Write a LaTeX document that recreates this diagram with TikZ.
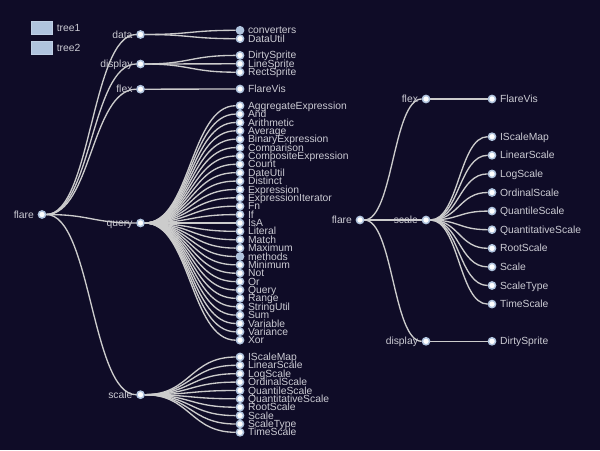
\documentclass[tikz,border=0pt]{standalone}
\usepackage{fontspec}
\setmainfont{Liberation Sans}
\usepackage{tikz,xcolor}
\usetikzlibrary{calc}

\definecolor{bgnavy}{HTML}{0F0C27}
\definecolor{linkgray}{HTML}{CCCCCC}
\definecolor{textgray}{HTML}{CBCBD3}
\definecolor{steelblue}{HTML}{B0C4DE}

\pgfdeclarelayer{bg}
\pgfdeclarelayer{links}
\pgfsetlayers{bg,links,main}

\tikzset{
  vert/.style={circle,draw=steelblue,fill=white,line width=1.1pt,inner sep=0pt,minimum size=5.4pt},
  folded/.style={vert,fill=steelblue},
  link/.style={draw=linkgray,line width=1pt},
  every label/.style={text=textgray,inner sep=0pt,text height=5.5pt,text depth=0.2pt,
    font=\fontsize{7.75}{8}\selectfont},
  label distance=2.6pt
}

\begin{document}
\begin{tikzpicture}[x=0.75pt,y=-0.75pt]
  \begin{pgfonlayer}{bg}
    \fill[bgnavy] (0,0) rectangle (600,450);
  \end{pgfonlayer}
  \useasboundingbox (0,0) rectangle (600,450);

  % legend
  \node[draw=steelblue!80!white,fill=steelblue,minimum width=15.5pt,minimum height=9.5pt,inner sep=0pt] (key1) at (41.5,27.5) {};
  \node[draw=steelblue!80!white,fill=steelblue,minimum width=15.5pt,minimum height=9.5pt,inner sep=0pt] (key2) at (41.5,48) {};
  \node[anchor=west,text=textgray,inner sep=0pt,font=\fontsize{7.75}{8}\selectfont] (key1txt) at (56.5,27.5) {tree1};
  \node[anchor=west,text=textgray,inner sep=0pt,font=\fontsize{7.75}{8}\selectfont] (key2txt) at (56.5,48) {tree2};

  % tree1
  \begin{scope}
    \node[vert,label=left:flare] (lflare) at (42,214.5) {};
    \node[vert,label=left:data] (ldata) at (140.5,34.5) {};
    \node[vert,label=left:display] (ldisplay) at (140.5,64) {};
    \node[vert,label=left:flex] (lflex) at (140.5,89.2) {};
    \node[vert,label=left:query] (lquery) at (140.5,223) {};
    \node[vert,label=left:scale] (lscale) at (140.5,394.7) {};
    \node[folded,label=right:converters] (lconv) at (240,30.3) {};
    \node[vert,label=right:DataUtil] (ldatautil) at (240,38.7) {};
    \node[vert,label=right:DirtySprite] (ldirty) at (240,55.4) {};
    \node[vert,label=right:LineSprite] (lline) at (240,63.8) {};
    \node[vert,label=right:RectSprite] (lrect) at (240,72.2) {};
    \node[vert,label=right:FlareVis] (lflarevis) at (240,89) {};
    \node[vert,label=right:AggregateExpression] (lagg) at (240,105.7) {};
    \node[vert,label=right:And] (land) at (240,114.1) {};
    \node[vert,label=right:Arithmetic] (larith) at (240,122.5) {};
    \node[vert,label=right:Average] (lavg) at (240,130.8) {};
    \node[vert,label=right:BinaryExpression] (lbinary) at (240,139.2) {};
    \node[vert,label=right:Comparison] (lcomp) at (240,147.6) {};
    \node[vert,label=right:CompositeExpression] (lcomposite) at (240,156) {};
    \node[vert,label=right:Count] (lcount) at (240,164.3) {};
    \node[vert,label=right:DateUtil] (ldateutil) at (240,172.7) {};
    \node[vert,label=right:Distinct] (ldistinct) at (240,181.1) {};
    \node[vert,label=right:Expression] (lexpr) at (240,189.5) {};
    \node[vert,label=right:ExpressionIterator] (lexpriter) at (240,197.8) {};
    \node[vert,label=right:Fn] (lfn) at (240,206.2) {};
    \node[vert,label=right:If] (lif) at (240,214.6) {};
    \node[vert,label=right:IsA] (lisa) at (240,223) {};
    \node[vert,label=right:Literal] (lliteral) at (240,231.3) {};
    \node[vert,label=right:Match] (lmatch) at (240,239.7) {};
    \node[vert,label=right:Maximum] (lmax) at (240,248.1) {};
    \node[folded,label=right:methods] (lmethods) at (240,256.5) {};
    \node[vert,label=right:Minimum] (lmin) at (240,264.8) {};
    \node[vert,label=right:Not] (lnot) at (240,273.2) {};
    \node[vert,label=right:Or] (lor) at (240,281.6) {};
    \node[vert,label=right:Query] (lqueryleaf) at (240,290) {};
    \node[vert,label=right:Range] (lrange) at (240,298.3) {};
    \node[vert,label=right:StringUtil] (lstring) at (240,306.7) {};
    \node[vert,label=right:Sum] (lsum) at (240,315.1) {};
    \node[vert,label=right:Variable] (lvar) at (240,323.5) {};
    \node[vert,label=right:Variance] (lvariance) at (240,331.8) {};
    \node[vert,label=right:Xor] (lxor) at (240,340.2) {};
    \node[vert,label=right:IScaleMap] (lsmap) at (240,357) {};
    \node[vert,label=right:LinearScale] (llinear) at (240,365.3) {};
    \node[vert,label=right:LogScale] (llog) at (240,373.7) {};
    \node[vert,label=right:OrdinalScale] (lordinal) at (240,382.1) {};
    \node[vert,label=right:QuantileScale] (lquantile) at (240,390.5) {};
    \node[vert,label=right:QuantitativeScale] (lquant) at (240,398.8) {};
    \node[vert,label=right:RootScale] (lroot) at (240,407.2) {};
    \node[vert,label=right:Scale] (lscaleleaf) at (240,415.6) {};
    \node[vert,label=right:ScaleType] (lstype) at (240,424) {};
    \node[vert,label=right:TimeScale] (ltime) at (240,432.3) {};
    \begin{pgfonlayer}{links}
      \draw[link] (lflare) .. controls +(49,0) and +(-49,0) .. (ldata);
      \draw[link] (lflare) .. controls +(49,0) and +(-49,0) .. (ldisplay);
      \draw[link] (lflare) .. controls +(49,0) and +(-49,0) .. (lflex);
      \draw[link] (lflare) .. controls +(49,0) and +(-49,0) .. (lquery);
      \draw[link] (lflare) .. controls +(49,0) and +(-49,0) .. (lscale);
      \draw[link] (ldata) .. controls +(50,0) and +(-50,0) .. (lconv);
      \draw[link] (ldata) .. controls +(50,0) and +(-50,0) .. (ldatautil);
      \draw[link] (ldisplay) .. controls +(50,0) and +(-50,0) .. (ldirty);
      \draw[link] (ldisplay) .. controls +(50,0) and +(-50,0) .. (lline);
      \draw[link] (ldisplay) .. controls +(50,0) and +(-50,0) .. (lrect);
      \draw[link] (lflex) .. controls +(50,0) and +(-50,0) .. (lflarevis);
      \draw[link] (lquery) .. controls +(50,0) and +(-50,0) .. (lagg);
      \draw[link] (lquery) .. controls +(50,0) and +(-50,0) .. (land);
      \draw[link] (lquery) .. controls +(50,0) and +(-50,0) .. (larith);
      \draw[link] (lquery) .. controls +(50,0) and +(-50,0) .. (lavg);
      \draw[link] (lquery) .. controls +(50,0) and +(-50,0) .. (lbinary);
      \draw[link] (lquery) .. controls +(50,0) and +(-50,0) .. (lcomp);
      \draw[link] (lquery) .. controls +(50,0) and +(-50,0) .. (lcomposite);
      \draw[link] (lquery) .. controls +(50,0) and +(-50,0) .. (lcount);
      \draw[link] (lquery) .. controls +(50,0) and +(-50,0) .. (ldateutil);
      \draw[link] (lquery) .. controls +(50,0) and +(-50,0) .. (ldistinct);
      \draw[link] (lquery) .. controls +(50,0) and +(-50,0) .. (lexpr);
      \draw[link] (lquery) .. controls +(50,0) and +(-50,0) .. (lexpriter);
      \draw[link] (lquery) .. controls +(50,0) and +(-50,0) .. (lfn);
      \draw[link] (lquery) .. controls +(50,0) and +(-50,0) .. (lif);
      \draw[link] (lquery) .. controls +(50,0) and +(-50,0) .. (lisa);
      \draw[link] (lquery) .. controls +(50,0) and +(-50,0) .. (lliteral);
      \draw[link] (lquery) .. controls +(50,0) and +(-50,0) .. (lmatch);
      \draw[link] (lquery) .. controls +(50,0) and +(-50,0) .. (lmax);
      \draw[link] (lquery) .. controls +(50,0) and +(-50,0) .. (lmethods);
      \draw[link] (lquery) .. controls +(50,0) and +(-50,0) .. (lmin);
      \draw[link] (lquery) .. controls +(50,0) and +(-50,0) .. (lnot);
      \draw[link] (lquery) .. controls +(50,0) and +(-50,0) .. (lor);
      \draw[link] (lquery) .. controls +(50,0) and +(-50,0) .. (lqueryleaf);
      \draw[link] (lquery) .. controls +(50,0) and +(-50,0) .. (lrange);
      \draw[link] (lquery) .. controls +(50,0) and +(-50,0) .. (lstring);
      \draw[link] (lquery) .. controls +(50,0) and +(-50,0) .. (lsum);
      \draw[link] (lquery) .. controls +(50,0) and +(-50,0) .. (lvar);
      \draw[link] (lquery) .. controls +(50,0) and +(-50,0) .. (lvariance);
      \draw[link] (lquery) .. controls +(50,0) and +(-50,0) .. (lxor);
      \draw[link] (lscale) .. controls +(50,0) and +(-50,0) .. (lsmap);
      \draw[link] (lscale) .. controls +(50,0) and +(-50,0) .. (llinear);
      \draw[link] (lscale) .. controls +(50,0) and +(-50,0) .. (llog);
      \draw[link] (lscale) .. controls +(50,0) and +(-50,0) .. (lordinal);
      \draw[link] (lscale) .. controls +(50,0) and +(-50,0) .. (lquantile);
      \draw[link] (lscale) .. controls +(50,0) and +(-50,0) .. (lquant);
      \draw[link] (lscale) .. controls +(50,0) and +(-50,0) .. (lroot);
      \draw[link] (lscale) .. controls +(50,0) and +(-50,0) .. (lscaleleaf);
      \draw[link] (lscale) .. controls +(50,0) and +(-50,0) .. (lstype);
      \draw[link] (lscale) .. controls +(50,0) and +(-50,0) .. (ltime);
    \end{pgfonlayer}
  \end{scope}

  % tree2
  \begin{scope}
    \node[vert,label=left:flare] (rflare) at (360,220) {};
    \node[vert,label=left:flex] (rflex) at (426,99) {};
    \node[vert,label=left:scale] (rscale) at (426,220) {};
    \node[vert,label=left:display] (rdisplay) at (426,341.3) {};
    \node[vert,label=right:FlareVis] (rflarevis) at (492,99) {};
    \node[vert,label=right:IScaleMap] (rsmap) at (492,136.7) {};
    \node[vert,label=right:LinearScale] (rlinear) at (492,155.3) {};
    \node[vert,label=right:LogScale] (rlog) at (492,173.9) {};
    \node[vert,label=right:OrdinalScale] (rordinal) at (492,192.5) {};
    \node[vert,label=right:QuantileScale] (rquantile) at (492,211.1) {};
    \node[vert,label=right:QuantitativeScale] (rquant) at (492,229.7) {};
    \node[vert,label=right:RootScale] (rroot) at (492,248.3) {};
    \node[vert,label=right:Scale] (rscaleleaf) at (492,266.9) {};
    \node[vert,label=right:ScaleType] (rstype) at (492,285.5) {};
    \node[vert,label=right:TimeScale] (rtime) at (492,304.1) {};
    \node[vert,label=right:DirtySprite] (rdirty) at (492,341.3) {};
    \begin{pgfonlayer}{links}
      \draw[link] (rflare) .. controls +(33,0) and +(-33,0) .. (rflex);
      \draw[link] (rflare) -- (rscale);
      \draw[link] (rflare) .. controls +(33,0) and +(-33,0) .. (rdisplay);
      \draw[link] (rflex) -- (rflarevis);
      \draw[link] (rscale) .. controls +(33,0) and +(-33,0) .. (rsmap);
      \draw[link] (rscale) .. controls +(33,0) and +(-33,0) .. (rlinear);
      \draw[link] (rscale) .. controls +(33,0) and +(-33,0) .. (rlog);
      \draw[link] (rscale) .. controls +(33,0) and +(-33,0) .. (rordinal);
      \draw[link] (rscale) .. controls +(33,0) and +(-33,0) .. (rquantile);
      \draw[link] (rscale) .. controls +(33,0) and +(-33,0) .. (rquant);
      \draw[link] (rscale) .. controls +(33,0) and +(-33,0) .. (rroot);
      \draw[link] (rscale) .. controls +(33,0) and +(-33,0) .. (rscaleleaf);
      \draw[link] (rscale) .. controls +(33,0) and +(-33,0) .. (rstype);
      \draw[link] (rscale) .. controls +(33,0) and +(-33,0) .. (rtime);
      \draw[link] (rdisplay) -- (rdirty);
    \end{pgfonlayer}
  \end{scope}
\end{tikzpicture}
\end{document}
